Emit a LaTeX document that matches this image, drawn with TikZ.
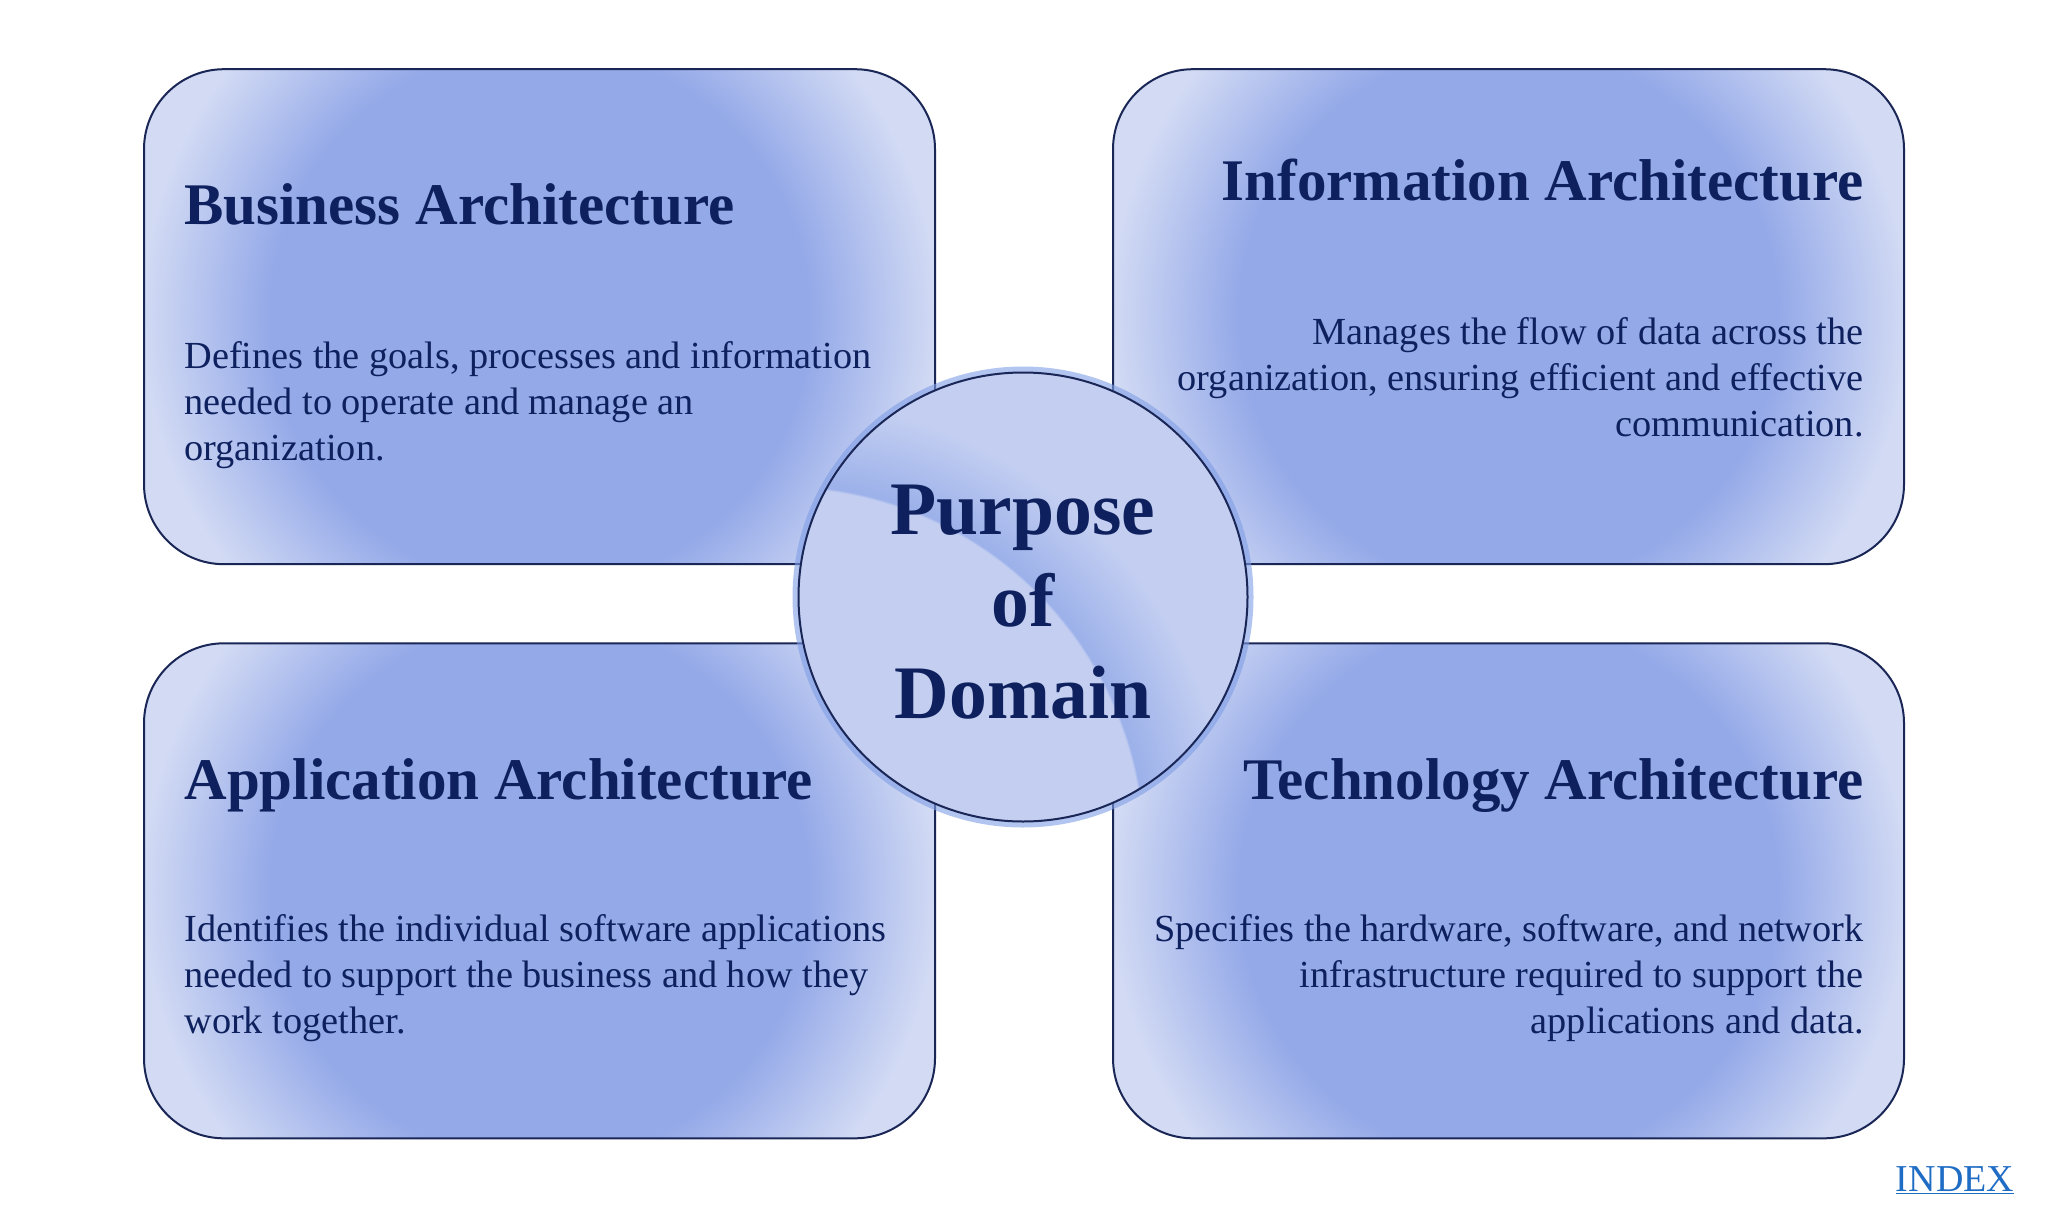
\documentclass[tikz,border=0pt]{standalone}
\usepackage{fontspec}
\setmainfont{Liberation Serif}
\usetikzlibrary{calc}
\definecolor{navy}{HTML}{0E215E}
\definecolor{edgec}{HTML}{1A2656}
\definecolor{bdark}{HTML}{94A9E8}
\definecolor{blight}{HTML}{D3DBF4}
\definecolor{cbase}{HTML}{C3CEF1}
\definecolor{cstreak}{HTML}{9CB1EA}
\definecolor{glowc}{HTML}{7F9EE6}
\definecolor{linkc}{HTML}{1F6CC4}
\pgfdeclareradialshading{boxglow}{\pgfpoint{0bp}{0bp}}{color(0bp)=(bdark); color(13.5bp)=(bdark); color(20bp)=(blight); color(25bp)=(blight); color(50bp)=(blight)}
\pgfdeclareradialshading{streakshade}{\pgfpoint{0bp}{0bp}}{color(0bp)=(cbase); color(15.1bp)=(cbase); color(15.2bp)=(cstreak); color(18.75bp)=(cbase); color(50bp)=(cbase)}
\tikzset{
  archbox/.style={draw=edgec, line width=1pt, rounded corners=40pt,
    minimum width=395.5pt, minimum height=247.5pt, inner sep=0pt,
    path picture={\shade[shading=boxglow] (path picture bounding box.center) circle (250pt);}},
  circdom/.style={circle, draw=edgec, line width=1pt, fill=cbase,
    minimum size=224.5pt, inner sep=0pt,
    preaction={draw=glowc, line width=6pt, draw opacity=0.6},
    path picture={\shade[shading=streakshade, shift={(path picture bounding box.center)}] (-121.5pt,-126.5pt) circle (300pt);}},
  circtxt/.style={font=\fontsize{37.8}{46}\selectfont\bfseries, text=navy, align=center, inner sep=0pt},
  ttl/.style={font=\fontsize{29.5}{35}\selectfont\bfseries, text=navy, inner sep=0pt},
  bodytxt/.style={font=\fontsize{19.15}{23}\selectfont, text=navy, inner sep=0pt},
  linktxt/.style={font=\fontsize{19}{22}\selectfont, text=linkc, inner sep=0pt}
}
\begin{document}
\begin{tikzpicture}[x=0.5pt, y=-0.5pt]
\useasboundingbox[fill=white] (0,0) rectangle (2048,1209);
% boxes
\node[archbox] (ba) at (539.5,316.7) {};
\node[archbox] (ia) at (1508.5,316.7) {};
\node[archbox] (aa) at (539.5,890.8) {};
\node[archbox] (ta) at (1508.5,890.8) {};
% titles
\node[ttl, anchor=base west] (tba) at (184,225) {Business Architecture};
\node[ttl, anchor=base east] (tia) at (1864,201) {Information Architecture};
\node[ttl, anchor=base west] (taa) at (184,799) {Application Architecture};
\node[ttl, anchor=base east] (tta) at (1864,799) {Technology Architecture};
% bodies
\node[bodytxt, anchor=base west] (dba) at (184,368) {\parbox[t]{380pt}{\raggedright Defines the goals, processes and information\\needed to operate and manage an\\organization.}};
\node[bodytxt, anchor=base east] (dia) at (1864,344.5) {\parbox[t]{380pt}{\raggedleft Manages the flow of data across the\\organization, ensuring efficient and effective\\communication.}};
\node[bodytxt, anchor=base west] (daa) at (184,941) {\parbox[t]{380pt}{\raggedright Identifies the individual software applications\\needed to support the business and how they\\work together.}};
\node[bodytxt, anchor=base east] (dta) at (1864,941) {\parbox[t]{380pt}{\raggedleft Specifies the hardware, software, and network\\infrastructure required to support the\\applications and data.}};
% centre circle
\node[circdom] (pd) at (1023,597) {};
\node[circtxt] (pdtxt) at (1023,602) {Purpose\\of\\Domain};
% link
\node[linktxt, anchor=base] (idx) at (1955,1191) {\underline{INDEX}};
\end{tikzpicture}
\end{document}
